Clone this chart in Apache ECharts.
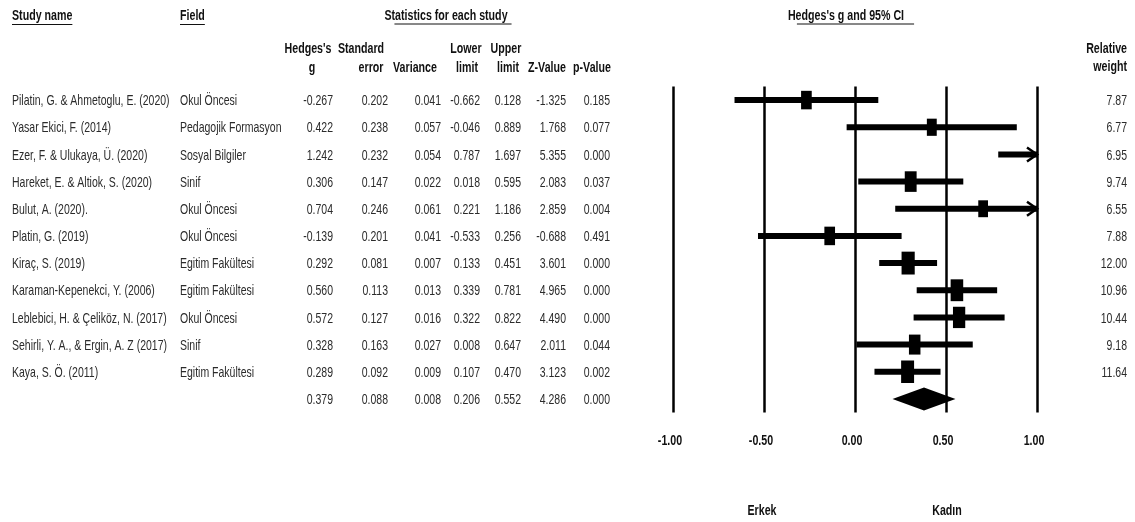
<!DOCTYPE html>
<html><head><meta charset="utf-8">
<script src="https://cdn.jsdelivr.net/npm/echarts@6/dist/echarts.min.js"></script>
<style>html,body{margin:0;padding:0;background:#fff}#c{width:1135px;height:522px}</style>
</head><body><div id="c"></div>
<script>
// ---------- data ----------
const studies = ['Pilatin, G. & Ahmetoglu, E. (2020)', 'Yasar Ekici, F. (2014)', 'Ezer, F. & Ulukaya, Ü. (2020)', 'Hareket, E. & Altiok, S. (2020)', 'Bulut, A. (2020).', 'Platin, G. (2019)', 'Kiraç, S. (2019)', 'Karaman-Kepenekci, Y. (2006)', 'Leblebici, H. & Çeliköz, N. (2017)', 'Sehirli, Y. A., & Ergin, A. Z (2017)', 'Kaya, S. Ö. (2011)'];
const fields = ['Okul Öncesi', 'Pedagojik Formasyon', 'Sosyal Bilgiler', 'Sinif', 'Okul Öncesi', 'Okul Öncesi', 'Egitim Fakültesi', 'Egitim Fakültesi', 'Okul Öncesi', 'Sinif', 'Egitim Fakültesi'];
const hedgesG = [-0.267, 0.422, 1.242, 0.306, 0.704, -0.139, 0.292, 0.560, 0.572, 0.328, 0.289];
const stdErr = [0.202, 0.238, 0.232, 0.147, 0.246, 0.201, 0.081, 0.113, 0.127, 0.163, 0.092];
const variance = [0.041, 0.057, 0.054, 0.022, 0.061, 0.041, 0.007, 0.013, 0.016, 0.027, 0.009];
const lowerLimit = [-0.662, -0.046, 0.787, 0.018, 0.221, -0.533, 0.133, 0.339, 0.322, 0.008, 0.107];
const upperLimit = [0.128, 0.889, 1.697, 0.595, 1.186, 0.256, 0.451, 0.781, 0.822, 0.647, 0.470];
const zValue = [-1.325, 1.768, 5.355, 2.083, 2.859, -0.688, 3.601, 4.965, 4.490, 2.011, 3.123];
const pValue = [0.185, 0.077, 0.000, 0.037, 0.004, 0.491, 0.000, 0.000, 0.000, 0.044, 0.002];
const relWeight = [7.87, 6.77, 6.95, 9.74, 6.55, 7.88, 12.00, 10.96, 10.44, 9.18, 11.64];
// summary: g, se, variance, lower, upper, z, p
const summaryStats = [0.379, 0.088, 0.008, 0.206, 0.552, 4.286, 0.000];
const xTicks = [-1, -0.5, 0, 0.5, 1];
const groupLabels = ['Erkek', 'Kadın'];

// ---------- style ----------
const FONT = "'Liberation Sans',Arimo,Arial,sans-serif";
const BODY = '15px ' + FONT;
const BOLD = 'bold 15px ' + FONT;
const SX = 0.7;      // horizontal squeeze to mimic a narrow face
const SXB = 0.71;
const TXT = '#2b2b2b';
const HDR = '#111';
const colRight = [333, 388, 441, 480, 521, 566, 610]; // stat columns right edges
const xName = 12, xField = 180, xWeight = 1127;
const nRows = studies.length + 1;

const chart = echarts.init(document.getElementById('c'), null, {renderer: 'canvas'});
const measure = (() => { const c = document.createElement('canvas').getContext('2d'); return (t, f) => { c.font = f; return c.measureText(t).width; }; })();

function fmt(v) { return v.toFixed(3); }

function btext(text, x, y, align) {
  return {type: 'text', x: x, y: y, scaleX: SXB, style: {text: text, font: BOLD, fill: HDR, align: align, verticalAlign: 'middle'}};
}

function headerUnderlined(text, cx, y, shift, extra) {
  const w = measure(text, BOLD) * SXB;
  const left = cx - w / 2;
  return [
    btext(text, cx, y, 'center'),
    {type: 'line', shape: {x1: left + (shift || 0), y1: y + 8, x2: left + w + (extra || 0), y2: y + 8}, style: {stroke: HDR, lineWidth: 1}}
  ];
}

const graphics = [];
graphics.push(btext('Study name', xName, 16, 'left'));
graphics.push({type: 'line', shape: {x1: xName, y1: 24.5, x2: xName + measure('Study name', BOLD) * SXB, y2: 24.5}, style: {stroke: HDR, lineWidth: 1}});
graphics.push(btext('Field', xField, 16, 'left'));
graphics.push({type: 'line', shape: {x1: xField, y1: 24.5, x2: xField + measure('Field', BOLD) * SXB, y2: 24.5}, style: {stroke: HDR, lineWidth: 1}});
graphics.push(...headerUnderlined('Statistics for each study', 446, 16, 10, 4));
graphics.push(...headerUnderlined('Hedges\'s g and 95% CI', 846, 16, 9, 10));

const colHeads = [
  ['Hedges\'s', 308, 'g', 312],
  ['Standard', 361, 'error', 371],
  ['', 0, 'Variance', 415],
  ['Lower', 466, 'limit', 467],
  ['Upper', 506, 'limit', 508],
  ['', 0, 'Z-Value', 547],
  ['', 0, 'p-Value', 592]
];
colHeads.forEach(h => {
  if (h[0]) graphics.push(btext(h[0], h[1], 49, 'center'));
  graphics.push(btext(h[2], h[3], 68, 'center'));
});
graphics.push(btext('Relative', xWeight, 49, 'right'));
graphics.push(btext('weight', xWeight, 67, 'right'));

const rowCats = [];
for (let i = 0; i < nRows; i++) rowCats.push(String(i));

const studyData = studies.map((s, i) => [i, hedgesG[i], lowerLimit[i], upperLimit[i], relWeight[i]]);
const tableData = rowCats.map((c, i) => [0, i]);
const XMIN = xTicks[0], XMAX = xTicks[xTicks.length - 1];

function renderStudy(params, api) {
  const i = api.value(0), g = api.value(1), lo = api.value(2), hi = api.value(3), w = api.value(4);
  const y = api.coord([0, i])[1];
  const x1 = api.coord([Math.max(lo, XMIN), i])[0];
  const x2 = api.coord([Math.min(hi, XMAX), i])[0];
  const ch = [{type: 'line', shape: {x1: x1, y1: y, x2: x2, y2: y}, style: {stroke: '#000', lineWidth: 6}}];
  if (g >= XMIN && g <= XMAX) {
    const cx = api.coord([g, i])[0];
    const s = Math.sqrt(w);
    ch.push({type: 'rect', shape: {x: cx - 1.9 * s, y: y - 3.3 * s, width: 3.8 * s, height: 6.6 * s}, style: {fill: '#000'}});
  }
  if (hi > XMAX) ch.push({type: 'polyline', shape: {points: [[x2 - 10, y - 7], [x2, y], [x2 - 10, y + 7]]}, style: {stroke: '#000', lineWidth: 2.5, fill: null}});
  if (lo < XMIN) ch.push({type: 'polyline', shape: {points: [[x1 + 10, y - 7], [x1, y], [x1 + 10, y + 7]]}, style: {stroke: '#000', lineWidth: 2.5, fill: null}});
  return {type: 'group', children: ch};
}

function renderSummary(params, api) {
  const i = api.value(0);
  const pg = api.coord([api.value(1), i]);
  const pl = api.coord([api.value(2), i]);
  const ph = api.coord([api.value(3), i]);
  const h = 11.5;
  return {type: 'polygon', shape: {points: [[pl[0], pl[1]], [pg[0], pg[1] - h], [ph[0], ph[1]], [pg[0], pg[1] + h]]}, style: {fill: '#000'}};
}

function renderTable(params, api) {
  const i = api.value(1);
  const y = api.coord([0, i])[1] + 1;
  const ch = [];
  const t = (x, text, align) => ch.push({type: 'text', x: x, y: y, scaleX: SX, style: {text: text, font: BODY, fill: TXT, align: align, verticalAlign: 'middle'}});
  let vals;
  if (i < studies.length) {
    t(xName, studies[i], 'left');
    t(xField, fields[i], 'left');
    vals = [hedgesG[i], stdErr[i], variance[i], lowerLimit[i], upperLimit[i], zValue[i], pValue[i]];
    t(xWeight, relWeight[i].toFixed(2), 'right');
  } else {
    vals = summaryStats;
  }
  vals.forEach((v, k) => t(colRight[k], fmt(v), 'right'));
  return {type: 'group', children: ch};
}

graphics.push(btext(groupLabels[0], 762, 511, 'center'));
graphics.push(btext(groupLabels[1], 947, 511, 'center'));

chart.setOption({
  animation: false,
  backgroundColor: '#fff',
  grid: {left: 673, right: 98, top: 86.5, height: 326, containLabel: false},
  xAxis: {
    type: 'value', min: XMIN, max: XMAX, interval: 0.5,
    axisLine: {show: false}, axisTick: {show: false},
    splitLine: {show: true, lineStyle: {color: '#000', width: 2.5}},
    axisLabel: {show: false}
  },
  yAxis: {type: 'category', data: rowCats, inverse: true, show: false},
  graphic: {elements: graphics},
  series: [
    {type: 'custom', name: 'studies', renderItem: renderStudy, data: studyData, encode: {x: [1, 2, 3], y: 0}, silent: true, clip: false},
    {type: 'custom', name: 'summary', renderItem: renderSummary, data: [[studies.length, summaryStats[0], summaryStats[3], summaryStats[4]]], encode: {x: [1, 2, 3], y: 0}, silent: true},
    {type: 'custom', name: 'table', renderItem: renderTable, data: tableData, encode: {x: 0, y: 1}, silent: true, clip: false},
    {type: 'custom', name: 'ticks', silent: true, clip: false,
      data: xTicks.map(v => [v, nRows - 1]),
      encode: {x: 0, y: 1},
      renderItem: (params, api) => {
        const p = api.coord([api.value(0), api.value(1)]);
        const yb = params.coordSys.y + params.coordSys.height;
        return {type: 'text', x: p[0] - 3, y: yb + 28, scaleX: SXB,
          style: {text: api.value(0).toFixed(2), font: 'bold 15px ' + FONT, fill: HDR, align: 'center', verticalAlign: 'middle'}};
      }}
  ]
});
</script></body></html>
